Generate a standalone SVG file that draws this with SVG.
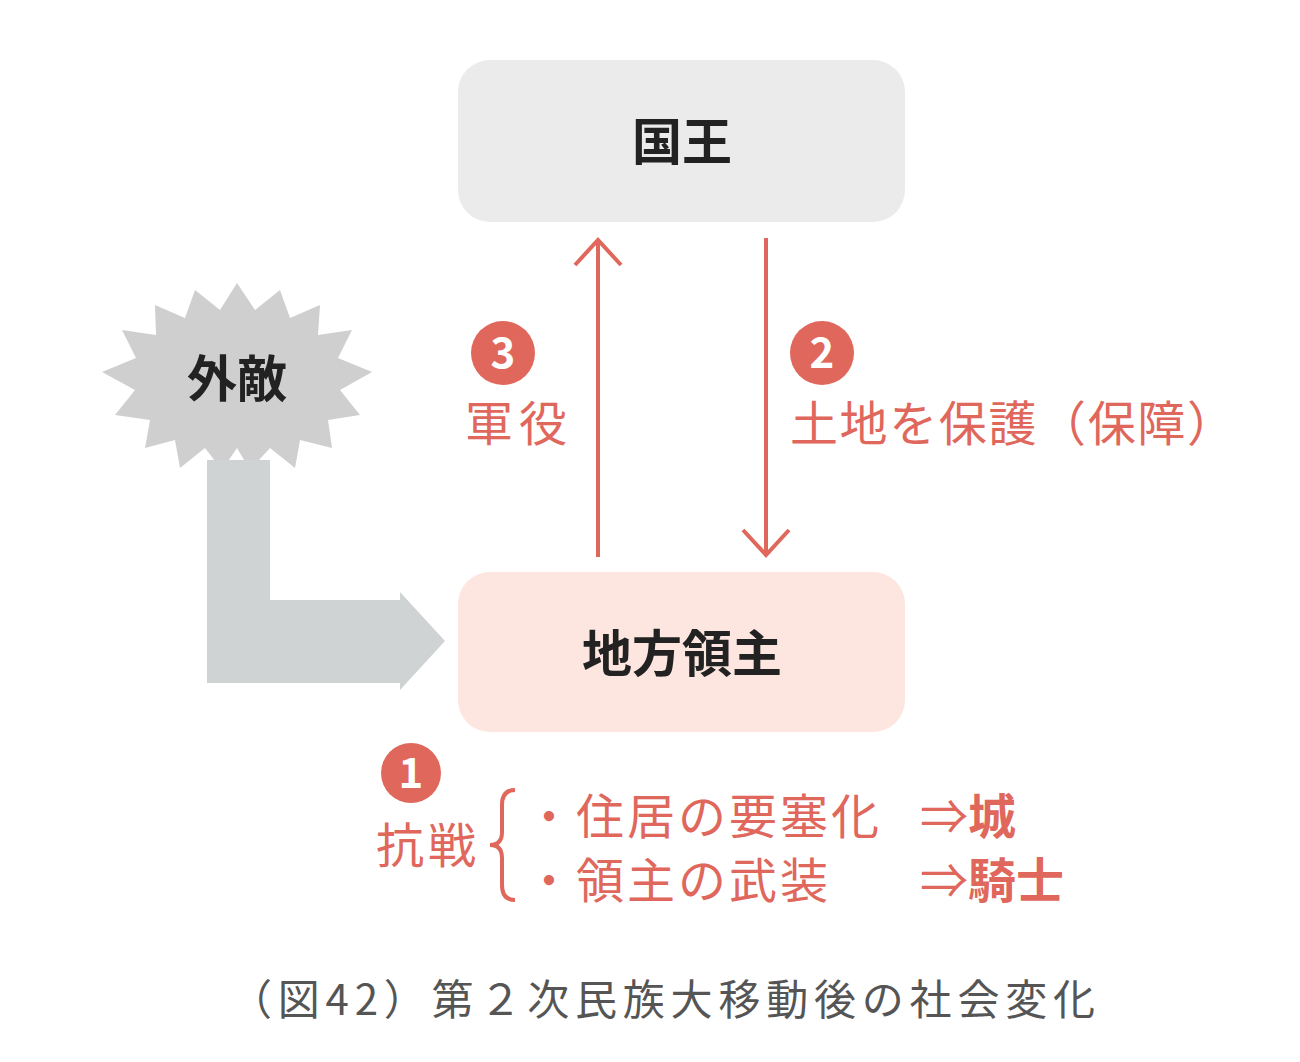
<svg xmlns="http://www.w3.org/2000/svg" width="1300" height="1062" viewBox="0 0 1300 1062">
<style>
.t{font-family:"Noto Sans CJK JP","Noto Sans",sans-serif}
.box{font-size:50px;font-weight:bold;fill:#222;text-anchor:middle}
.red{fill:#e0675c;font-size:48px}
.num{fill:#fff;font-size:42px;font-weight:bold;text-anchor:middle}
.ln{stroke:#e0675c;stroke-width:4;fill:none}
</style>
<rect width="1300" height="1062" fill="#fff"/>
<g id="king"><rect x="458" y="60" width="447" height="162" rx="32" fill="#ebebec"/><text class="t box" x="682" y="160">国王</text></g>
<g id="lord"><rect x="458" y="572" width="447" height="160" rx="32" fill="#fde6df"/><text class="t box" x="682" y="672">地方領主</text></g>
<g id="enemy"><polygon fill="#cfcfcf" points="237,283 255,310 280,290 290,318 320,305 318,335 352,330 338,358 372,372 340,390 360,415 328,420 332,448 300,440 295,468 270,448 250,470 237,448 222,470 205,448 180,468 175,440 145,448 150,420 115,415 135,390 102,372 136,358 122,330 156,335 155,305 185,318 195,290 220,310"/><text class="t box" x="237" y="397">外敵</text></g>
<g id="connectors">
<polygon fill="#d0d3d4" points="207,460 270,460 270,600 400,600 400,592 445,641 400,690 400,683 207,683"/>
<line class="ln" x1="598" y1="557" x2="598" y2="240"/><polyline class="ln" points="575,265 598,240 621,265"/>
<line class="ln" x1="766" y1="238" x2="766" y2="555"/><polyline class="ln" points="743,530 766,555 789,530"/>
</g>
<g id="labels">
<circle cx="503" cy="353" r="32" fill="#e0675c"/><text class="t num" x="503" y="368">3</text>
<text class="t red" x="465" y="441" letter-spacing="6">軍役</text>
<circle cx="822" cy="353" r="32" fill="#e0675c"/><text class="t num" x="822" y="368">2</text>
<text class="t red" x="790" y="441" textLength="445">土地を保護（保障）</text>
<circle cx="411" cy="773" r="30" fill="#e0675c"/><text class="t num" x="411" y="788">1</text>
<text class="t red" x="376" y="863" letter-spacing="4">抗戦</text>
<path class="ln" stroke-width="3" d="M515,790 Q502,790 502,805 L502,832 Q502,845 490,845 Q502,845 502,858 L502,885 Q502,900 515,900"/>
<text class="t red" x="525" y="834" letter-spacing="3">・住居の要塞化</text>
<text class="t red" x="920" y="834">⇒<tspan font-weight="bold">城</tspan></text>
<text class="t red" x="525" y="898" letter-spacing="3">・領主の武装</text>
<text class="t red" x="920" y="898">⇒<tspan font-weight="bold">騎士</tspan></text>
<text class="t" x="230" y="1015" font-size="42" fill="#555" textLength="865">（図42）第２次民族大移動後の社会変化</text>
</g>
</svg>
